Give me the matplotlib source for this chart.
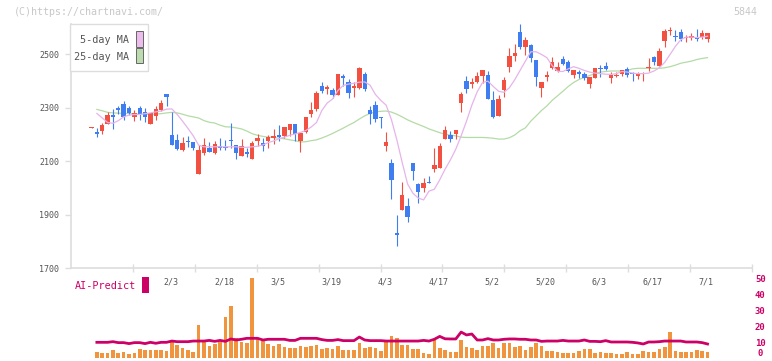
import numpy as np
import matplotlib
matplotlib.use("Agg")
import matplotlib.pyplot as plt
from matplotlib.patches import Rectangle

plt.rcParams['font.family'] = ['DejaVu Sans Mono', 'DejaVu Sans']

# daily prices (trading days, index 0 = first candle)
opens = [2226, 2209, 2213, 2241, 2273, 2298, 2314, 2298, 2267, 2299,
         2283, 2241, 2271, 2292, 2352, 2198, 2179, 2142, 2176, 2172,
         2053, 2132, 2151, 2132, 2156, 2154, 2181, 2161, 2121, 2134,
         2108, 2176, 2169, 2176, 2188, 2198, 2194, 2217, 2239, 2176,
         2208, 2276, 2295, 2382, 2372, 2367, 2349, 2420, 2395, 2375,
         2373, 2427, 2292, 2310, 2267, 2158, 2092, 1830, 1917, 1932,
         2092, 2013, 1998, 2023, 2071, 2073, 2182, 2198, 2201, 2317,
         2400, 2388, 2398, 2419, 2423, 2329, 2271, 2367, 2454, 2494,
         2585, 2526, 2535, 2479, 2375, 2417, 2450, 2439, 2483, 2470,
         2423, 2435, 2425, 2388, 2410, 2448, 2457, 2410, 2418, 2428,
         2445, 2429, 2420, 2428, 2450, 2491, 2458, 2551, 2586, 2570,
         2585, 2560, 2563, 2566, 2566, 2558]
highs = [2228, 2223, 2244, 2283, 2295, 2307, 2327, 2308, 2292, 2308,
         2298, 2280, 2305, 2330, 2352, 2285, 2202, 2192, 2194, 2172,
         2161, 2186, 2171, 2176, 2188, 2181, 2242, 2161, 2183, 2150,
         2176, 2202, 2188, 2198, 2221, 2236, 2229, 2238, 2239, 2207,
         2266, 2323, 2363, 2398, 2385, 2375, 2427, 2425, 2408, 2398,
         2452, 2433, 2307, 2325, 2267, 2208, 2108, 1898, 2023, 1963,
         2092, 2017, 2036, 2043, 2148, 2167, 2233, 2213, 2217, 2358,
         2419, 2413, 2435, 2441, 2438, 2363, 2348, 2417, 2523, 2538,
         2613, 2566, 2538, 2479, 2398, 2438, 2489, 2473, 2493, 2479,
         2442, 2442, 2435, 2417, 2450, 2460, 2473, 2435, 2433, 2442,
         2454, 2435, 2435, 2435, 2488, 2495, 2525, 2595, 2604, 2591,
         2595, 2573, 2579, 2595, 2591, 2579]
lows = [2226, 2191, 2203, 2238, 2219, 2275, 2254, 2273, 2252, 2255,
        2248, 2238, 2255, 2288, 2308, 2161, 2142, 2138, 2154, 2142,
        2053, 2123, 2136, 2128, 2142, 2142, 2151, 2108, 2121, 2115,
        2108, 2158, 2138, 2151, 2163, 2176, 2186, 2196, 2177, 2136,
        2204, 2267, 2289, 2357, 2350, 2338, 2349, 2383, 2338, 2342,
        2369, 2363, 2238, 2248, 2223, 2138, 1958, 1784, 1917, 1871,
        2030, 1942, 1986, 2020, 2058, 2073, 2182, 2173, 2182, 2283,
        2354, 2373, 2392, 2392, 2333, 2261, 2271, 2342, 2435, 2475,
        2520, 2498, 2470, 2383, 2342, 2402, 2445, 2433, 2460, 2433,
        2413, 2410, 2404, 2375, 2410, 2417, 2442, 2394, 2414, 2420,
        2417, 2402, 2408, 2402, 2438, 2460, 2458, 2529, 2573, 2551,
        2550, 2545, 2554, 2551, 2558, 2548]
closes = [2228, 2202, 2235, 2273, 2267, 2293, 2267, 2279, 2280, 2277,
          2267, 2280, 2295, 2317, 2340, 2161, 2146, 2168, 2171, 2151,
          2142, 2161, 2136, 2163, 2148, 2148, 2176, 2131, 2157, 2128,
          2167, 2188, 2158, 2189, 2196, 2191, 2229, 2238, 2202, 2207,
          2266, 2292, 2357, 2364, 2378, 2349, 2427, 2410, 2357, 2382,
          2448, 2369, 2275, 2257, 2261, 2171, 2030, 1824, 1973, 1892,
          2065, 1986, 2020, 2020, 2086, 2157, 2217, 2184, 2217, 2352,
          2370, 2398, 2419, 2441, 2333, 2267, 2333, 2404, 2494, 2504,
          2529, 2554, 2488, 2417, 2398, 2423, 2470, 2454, 2464, 2439,
          2442, 2425, 2413, 2417, 2450, 2444, 2444, 2423, 2423, 2442,
          2423, 2425, 2427, 2432, 2454, 2473, 2513, 2588, 2589, 2566,
          2558, 2566, 2570, 2558, 2579, 2579]

nan = np.nan
ma5 = [nan, 2279, 2262, 2245, 2242, 2252, 2266, 2273, 2275, 2275,
       2278, 2281, 2285, 2288, 2295, 2296, 2275, 2250, 2223, 2195,
       2160, 2154, 2154, 2154, 2154, 2154, 2154, 2154, 2152, 2152,
       2154, 2156, 2161, 2170, 2176, 2184, 2190, 2197, 2202, 2208,
       2215, 2228, 2245, 2290, 2318, 2333, 2365, 2384, 2389, 2392,
       2396, 2397, 2385, 2350, 2328, 2310, 2255, 2180, 2095, 2015,
       1980, 1962, 1955, 1988, 1995, 2030, 2070, 2105, 2145, 2195,
       2250, 2310, 2360, 2395, 2400, 2380, 2362, 2358, 2375, 2405,
       2440, 2475, 2510, 2510, 2500, 2488, 2458, 2437, 2436, 2446,
       2454, 2448, 2440, 2434, 2430, 2428, 2426, 2425, 2428, 2436,
       2434, 2430, 2428, 2428, 2430, 2438, 2450, 2470, 2500, 2530,
       2555, 2565, 2565, 2563, 2565, 2568]
ma25 = [nan, 2294, 2289, 2283, 2281, 2280, 2279, 2279, 2277, 2276,
        2276, 2276, 2277, 2278, 2281, 2283, 2281, 2276, 2270, 2266,
        2262, 2252, 2246, 2243, 2235, 2229, 2228, 2225, 2221, 2213,
        2203, 2197, 2193, 2190, 2189, 2186, 2184, 2180, 2177, 2172,
        2173, 2177, 2180, 2187, 2195, 2204, 2214, 2224, 2235, 2245,
        2258, 2270, 2279, 2285, 2287, 2288, 2284, 2276, 2266, 2255,
        2246, 2238, 2230, 2221, 2214, 2207, 2201, 2198, 2195, 2190,
        2189, 2189, 2189, 2189, 2188, 2186, 2183, 2183, 2188, 2198,
        2214, 2225, 2250, 2270, 2290, 2307, 2328, 2345, 2362, 2380,
        2395, 2406, 2414, 2421, 2428, 2434, 2436, 2438, 2438, 2438,
        2440, 2446, 2448, 2448, 2448, 2448, 2448, 2450, 2454, 2460,
        2467, 2471, 2475, 2481, 2485, 2488]

volume = [0, 6, 5, 5, 8, 5, 6, 4, 5, 9,
          8, 8, 8, 8, 7, 16, 13, 10, 8, 6,
          33, 17, 12, 14, 16, 41, 52, 20, 16, 15,
          80, 19, 18, 14, 12, 14, 11, 10, 10, 12,
          11, 12, 13, 9, 10, 9, 12, 8, 8, 8,
          15, 10, 11, 10, 7, 16, 22, 20, 13, 13,
          9, 9, 5, 4, 18, 10, 8, 6, 6, 18,
          11, 10, 8, 12, 12, 15, 10, 15, 15, 11,
          12, 8, 11, 15, 12, 7, 7, 6, 5, 5,
          5, 7, 9, 9, 5, 6, 5, 5, 4, 4,
          6, 4, 4, 7, 6, 6, 9, 11, 26, 7,
          6, 6, 6, 8, 7, 6]

ai_predict = [nan, 9.8, 9.8, 9.8, 10.2, 9.6, 9.6, 9.0, 9.6, 9.6,
              9.0, 9.8, 9.2, 9.8, 9.8, 10.6, 10.2, 10.2, 10.2, 10.6,
              10.6, 10.6, 11.0, 10.4, 11.0, 10.4, 11.9, 11.25, 11.7, 12.3,
              12.3, 12.3, 11.25, 11.7, 11.7, 11.7, 11.7, 11.0, 11.0, 12.3,
              12.3, 12.3, 12.3, 11.5, 11.0, 11.0, 11.5, 10.85, 10.85, 10.85,
              13.1, 11.25, 10.85, 10.85, 10.85, 10.6, 10.6, 10.6, 10.6, 10.6,
              10.6, 10.6, 11.0, 10.6, 11.7, 13.5, 12.0, 11.9, 11.9, 16.2,
              14.4, 15.0, 11.25, 11.25, 12.1, 11.25, 11.25, 11.7, 11.9, 11.9,
              11.7, 11.7, 11.25, 11.25, 10.4, 10.6, 10.6, 10.6, 11.0, 10.6,
              10.6, 10.6, 11.25, 10.4, 10.4, 10.2, 10.85, 10.0, 10.0, 10.0,
              10.0, 9.8, 9.4, 8.75, 10.0, 10.0, 10.2, 10.6, 10.6, 10.6,
              10.6, 10.0, 10.0, 10.0, 9.6, 8.75]

date_pos = [15, 25, 35, 45, 55, 65, 75, 85, 95, 105, 115]
date_labels = ['2/3', '2/18', '3/5', '3/19', '4/3', '4/17', '5/2', '5/20', '6/3', '6/17', '7/1']
price_ticks = [1700, 1900, 2100, 2300, 2500]
ai_ticks = [0, 10, 20, 30, 40, 50]

UP = '#f25142'
DOWN = '#3f7ef0'
GRID = '#dddddd'
MAGENTA = '#cc0066'

W, H = 772, 361
fig = plt.figure(figsize=(W / 100, H / 100), dpi=100)


def box(l, t, r, b):
    # pixel box -> figure fraction
    return [l / W, 1 - b / H, (r - l) / W, (b - t) / H]


o = np.array(opens, float)
c = np.array(closes, float)
x = np.arange(len(c))
xlim = (-3.83, 123.3)

# ---- price panel ----
ax = fig.add_axes(box(71, 24, 752, 268))
up = c >= o
col = np.where(up, UP, DOWN)
ax.vlines(x, lows, highs, colors=col, linewidth=0.8, zorder=2)
body_h = np.maximum(np.abs(c - o), 4)
ax.bar(x, body_h, bottom=np.minimum(o, c), width=0.82, color=col, linewidth=0, zorder=3)
ax.plot(x, ma5, color='#e6b4ea', linewidth=0.9, zorder=4)
ax.plot(x, ma25, color='#b4dba6', linewidth=0.9, zorder=1)

ax.set_xlim(xlim)
ax.set_ylim(1700, 2614)
for s in ['top', 'right']:
    ax.spines[s].set_visible(False)
for s in ['left', 'bottom']:
    ax.spines[s].set_color(GRID)
    ax.spines[s].set_linewidth(1.2)
ax.set_yticks(price_ticks)
ax.set_yticklabels([str(t) for t in price_ticks])
ax.tick_params(axis='y', direction='out', length=4.5, width=1, color=GRID,
               labelsize=6, labelcolor='#555555', pad=4)
ax.set_xticks(np.linspace(xlim[0], xlim[1], 12)[1:])
ax.tick_params(axis='x', direction='inout', length=6, width=1, color=GRID,
               labelbottom=False)
for p, lab in zip(date_pos, date_labels):
    ax.text(p - 0.25, -0.057, lab, transform=ax.get_xaxis_transform(),
            ha='center', va='center', fontsize=6, color='#555555')

# ---- volume / AI panel ----
axv = fig.add_axes(box(71, 278, 752, 358))
axv.bar(x, volume, width=0.68, color='#f0953e', linewidth=0)
axv.set_xlim(xlim)
axv.set_ylim(0, 80)
axv.axis('off')

axa = axv.twinx()
axa.plot(x, ai_predict, color=MAGENTA, linewidth=2.0)
axa.set_xlim(xlim)
axa.set_ylim(0, 50)
for s in axa.spines.values():
    s.set_visible(False)
axa.set_yticks(ai_ticks)
axa.set_yticklabels([str(t) for t in ai_ticks])
axa.tick_params(axis='y', length=0, pad=6, labelsize=6.5, labelcolor=MAGENTA)
for t in axa.get_yticklabels():
    t.set_ha('center')
    t.set_fontweight('bold')
# keep the bottom label inside the picture
axa.get_yticklabels()[0].set_va('bottom')
axa.tick_params(axis='x', bottom=False, labelbottom=False)

# ---- legend box ----
fig.add_artist(Rectangle((70 / W, 1 - 71 / H), 78 / W, 47 / H, transform=fig.transFigure,
                         facecolor='white', edgecolor=GRID, linewidth=1.0, zorder=5))
fig.text(129 / W, 1 - 40 / H, '5-day MA', ha='right', va='center', fontsize=7.3,
         color='#555555', zorder=6)
fig.text(129 / W, 1 - 57 / H, '25-day MA', ha='right', va='center', fontsize=7.3,
         color='#555555', zorder=6)
fig.add_artist(Rectangle((136 / W, 1 - 46.5 / H), 6.5 / W, 15 / H, transform=fig.transFigure,
                         facecolor='#ecbcec', edgecolor='#666666', linewidth=0.7, zorder=6))
fig.add_artist(Rectangle((136 / W, 1 - 63 / H), 6.5 / W, 15 / H, transform=fig.transFigure,
                         facecolor='#bcdcb0', edgecolor='#666666', linewidth=0.7, zorder=6))

# ---- headers ----
fig.text(14 / W, 1 - 12 / H, '(C)https://chartnavi.com/', ha='left', va='center',
         fontsize=7.2, color='#c8c8c8')
fig.text(757 / W, 1 - 12 / H, '5844', ha='right', va='center', fontsize=7.2, color='#c8c8c8')

fig.text(75 / W, 1 - 286 / H, 'AI-Predict', ha='left', va='center', fontsize=7.3, color=MAGENTA)
fig.add_artist(Rectangle((142 / W, 1 - 293 / H), 7 / W, 16 / H, transform=fig.transFigure,
                         facecolor=MAGENTA, edgecolor='none', zorder=5))

fig.savefig('out.png', dpi=100, facecolor='white')
